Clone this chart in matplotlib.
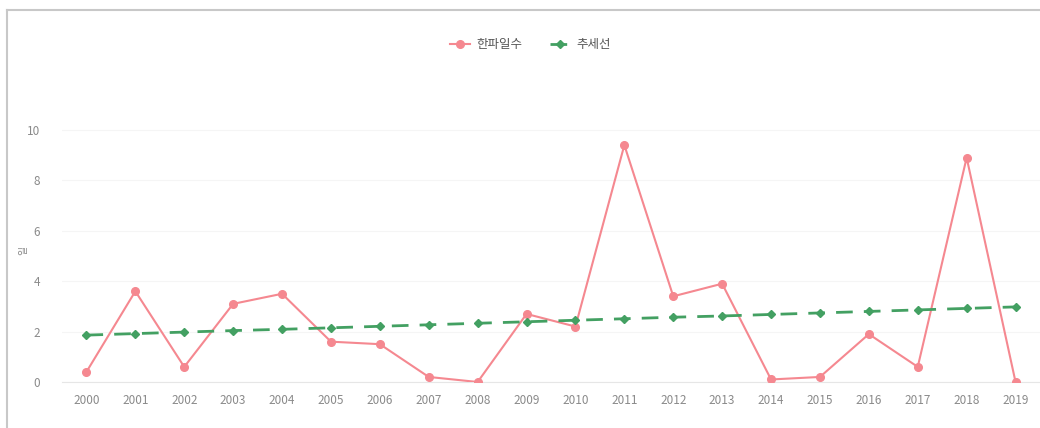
import numpy as np
import matplotlib.pyplot as plt
from matplotlib.lines import Line2D

plt.rcParams['font.family'] = ['Noto Sans CJK KR', 'DejaVu Sans']

# Data
years = ['2000', '2001', '2002', '2003', '2004', '2005', '2006', '2007', '2008', '2009',
         '2010', '2011', '2012', '2013', '2014', '2015', '2016', '2017', '2018', '2019']
cold_days = [0.4, 3.6, 0.6, 3.1, 3.5, 1.6, 1.5, 0.2, 0.0, 2.7,
             2.2, 9.4, 3.4, 3.9, 0.1, 0.2, 1.9, 0.6, 8.9, 0.0]
trend = [1.86, 1.92, 1.98, 2.04, 2.09, 2.15, 2.21, 2.27, 2.33, 2.39,
         2.45, 2.51, 2.57, 2.62, 2.68, 2.74, 2.80, 2.86, 2.92, 2.98]
yticks = [0, 2, 4, 6, 8, 10]

red = '#f58890'
green = '#43a062'

fig = plt.figure(figsize=(10.4, 4.28), dpi=100)
ax = fig.add_axes([0.0596, 0.1075, 0.9404, 0.7066])

x = np.arange(len(years))
ax.plot(x, cold_days, '-o', color=red, lw=1.5, markersize=5.5, label='한파일수', zorder=3)
ax.plot(x, trend, '--D', color=green, lw=2, markersize=4, dashes=(6, 4),
        label='추세선', zorder=4)

ax.set_xlim(-0.5, len(years) - 0.5)
ax.set_ylim(0, 12)
ax.set_xticks(x)
ax.set_xticklabels(years)
ax.set_yticks(yticks)
ax.tick_params(length=0, labelsize=8.5, labelcolor='#8a8a8a', pad=9)
ax.tick_params(axis='y', pad=16)
for s in ['top', 'right', 'left']:
    ax.spines[s].set_visible(False)
ax.spines['bottom'].set_color('#e6e6e6')
ax.grid(axis='y', color='#f5f5f5', lw=0.8)
ax.set_axisbelow(True)
ax.set_ylabel('일', fontsize=7, color='#8a8a8a')
ax.yaxis.set_label_coords(-0.034, 0.436)

leg = fig.legend(loc='center', bbox_to_anchor=(0.51, 0.895), ncol=2, frameon=False,
                 fontsize=9, handlelength=1.6, columnspacing=2.2, handletextpad=0.5)
for t in leg.get_texts():
    t.set_color('#555555')

# outer frame
fig.add_artist(Line2D([7 / 1040, 7 / 1040], [0, 1 - 10 / 428], color='#c8c8c8', lw=1.5))
fig.add_artist(Line2D([7 / 1040, 1], [1 - 10 / 428, 1 - 10 / 428], color='#c8c8c8', lw=1.5))

plt.savefig('out.png', dpi=100)
